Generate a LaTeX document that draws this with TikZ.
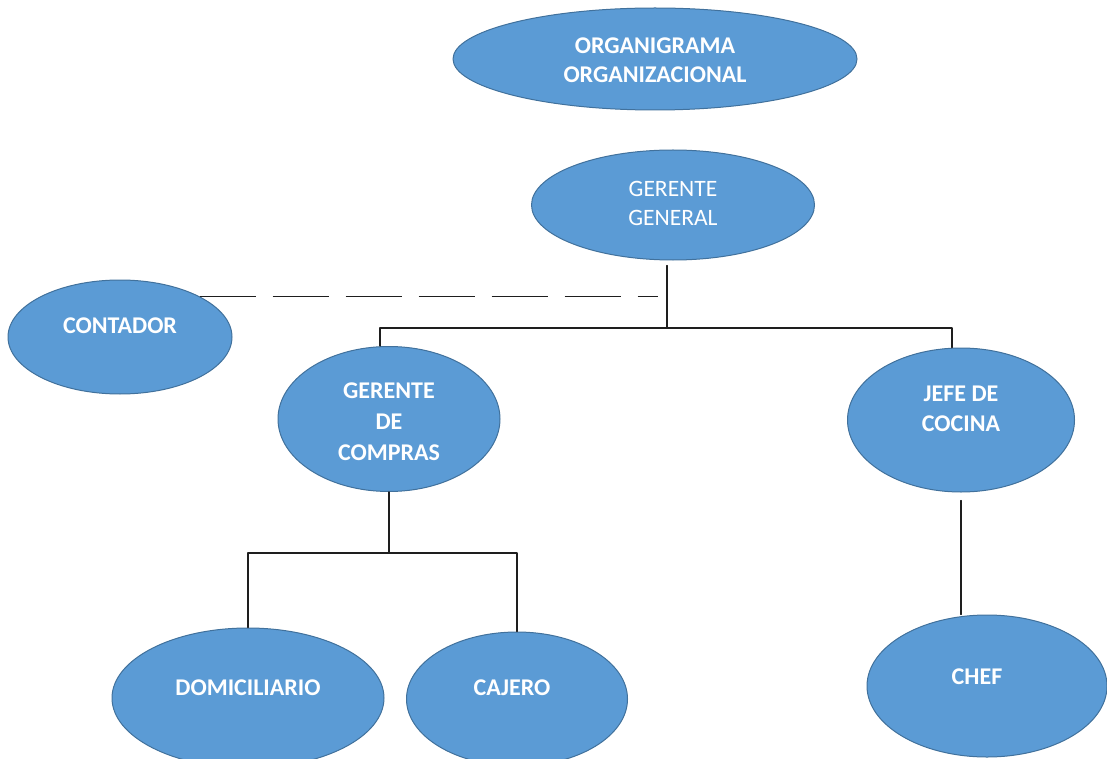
\documentclass[tikz,border=0pt]{standalone}
\usepackage{fontspec}
\setmainfont{Carlito}
\usetikzlibrary{shapes.geometric}

\definecolor{orgfill}{HTML}{5B9BD5}
\definecolor{orgline}{HTML}{41719C}
\definecolor{linkgray}{HTML}{1E1E1E}

\tikzset{
  blob/.style={ellipse, draw=orgline, fill=orgfill, line width=1.0pt, inner sep=0pt},
  lbl/.style={text=white, align=center, font=\bfseries\fontsize{24}{29.5}\selectfont},
  lblthin/.style={text=white, align=center, font=\fontsize{23.5}{29}\selectfont},
  link/.style={draw=linkgray, line width=1.3pt},
}

\begin{document}
\begin{tikzpicture}[x=1pt, y=-1pt, line cap=round, line join=round]

  %% ════ elipses ════
  \node[blob, minimum width=404, minimum height=102] (titulo) at (655,59)  {};
  \node[blob, minimum width=283, minimum height=110] (gg)     at (673,205) {};
  \node[blob, minimum width=224, minimum height=114] (cont)   at (120,337) {};
  \node[blob, minimum width=222, minimum height=145] (gc)     at (389,419) {};
  \node[blob, minimum width=227, minimum height=144] (jc)     at (961,420) {};
  \node[blob, minimum width=272, minimum height=140] (dom)    at (248,698) {};
  \node[blob, minimum width=221, minimum height=134] (caj)    at (517,699) {};
  \node[blob, minimum width=240, minimum height=142] (chef)   at (987,686) {};

  %% ════ textos ════
  \node[lbl]     (titulo-t) at (655,60)  {ORGANIGRAMA\\ORGANIZACIONAL};
  \node[lblthin] (gg-t)     at (673,203) {GERENTE\\GENERAL};
  \node[lbl]     (cont-t)   at (120,326) {CONTADOR};
  \node[lbl, font=\bfseries\fontsize{24}{31}\selectfont] (gc-t) at (389,422) {GERENTE\\DE\\COMPRAS};
  \node[lbl]     (jc-t)     at (961,409) {JEFE DE\\COCINA};
  \node[lbl]     (dom-t)    at (248,688) {DOMICILIARIO};
  \node[lbl]     (caj-t)    at (512,688) {CAJERO};
  \node[lbl]     (chef-t)   at (977,677) {CHEF};

  %% ════ conectores ════
  \coordinate (bus1) at (667,328);
  \coordinate (bus2) at (389,553);

  % gerente general -> mandos
  \draw[link] ([xshift=-6pt,yshift=-5pt]gg.south) -- (bus1);
  \draw[link] ([xshift=-9pt]gc.north) -- ([xshift=-9pt]gc.north |- bus1)
              -- ([xshift=-9pt]jc.north |- bus1) -- ([xshift=-9pt]jc.north);

  % contador (linea discontinua)
  \draw[link, dash pattern=on 56pt off 17pt, line cap=butt]
       (cont.north east) -- ([xshift=-9pt]bus1 |- cont.north east);

  % gerente de compras -> domiciliario / cajero
  \draw[link] (gc.south) -- (bus2);
  \draw[link] (dom.north) -- (dom.north |- bus2) -- (caj.north |- bus2) -- (caj.north);

  % jefe de cocina -> chef
  \draw[link] ([yshift=-8pt]jc.south) -- (jc.south |- chef.north);

  % lienzo fijo
  \pgfresetboundingbox
  \path[use as bounding box] (0,0) rectangle (1107,759);
\end{tikzpicture}
\end{document}
